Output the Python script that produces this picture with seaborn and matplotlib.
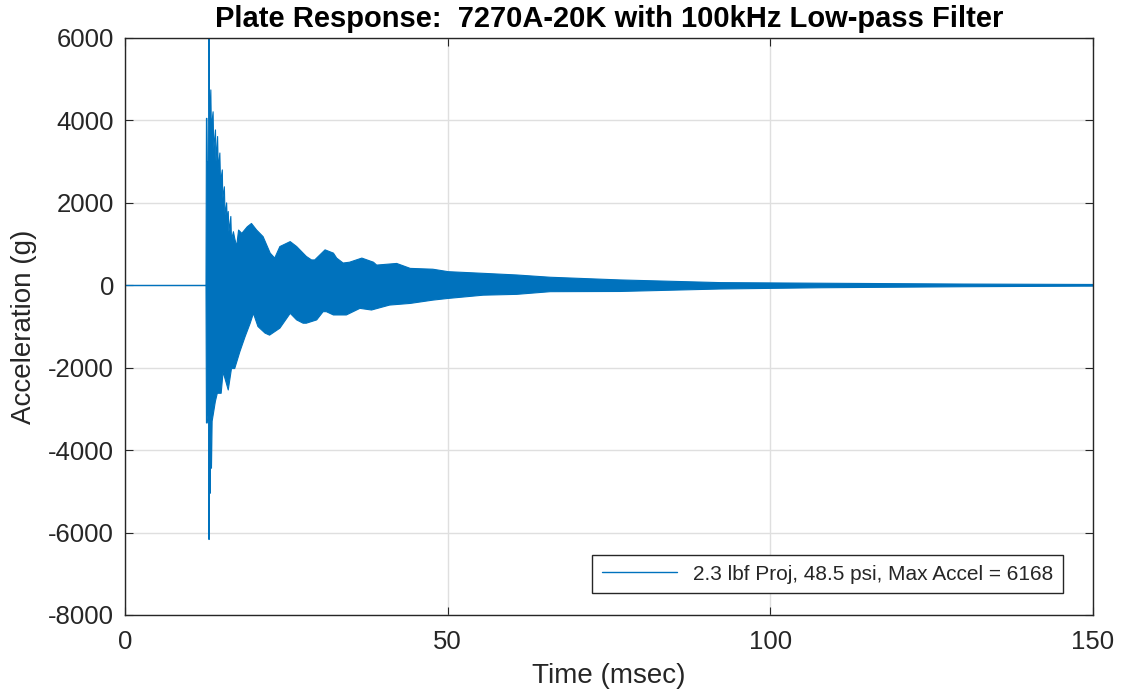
import numpy as np
import pandas as pd
import matplotlib
matplotlib.use("Agg")
import matplotlib.pyplot as plt
import seaborn as sns

# ---- data ----
# quiet baseline before impact (msec, g)
base_t = [0.0, 12.55]
base_a = [0.0, 0.0]

# upper envelope of the accelerometer trace (msec, g)
upper_t = [12.55, 12.62, 12.70, 12.75, 12.95, 13.00, 13.05, 13.10, 13.30, 13.38,
           13.65, 13.75, 14.02, 14.10, 14.35, 14.45, 14.70, 14.80, 15.08, 15.15,
           15.40, 15.50, 15.75, 15.85, 16.00, 16.10, 16.40, 16.50, 16.80, 17.00,
           17.30, 17.60, 18.10, 18.95, 19.60, 20.40, 21.40, 22.50, 23.20, 24.00,
           25.60, 26.60, 27.10, 28.10, 28.90, 29.40, 31.00, 32.30, 32.80, 33.80,
           34.80, 36.70, 38.50, 39.00, 42.10, 44.20, 47.70, 50.10, 55.50, 60.70,
           65.90, 76.70, 92.20, 107.70, 130.00, 150.00]
upper_a = [0, 4050, 4050, 3000, 3000, 6168, 6168, 3900, 4740, 3800,
           4210, 3300, 3770, 3000, 3610, 2800, 3210, 2500, 2800, 2100,
           2390, 1700, 2000, 1500, 1790, 1300, 1670, 1100, 1300, 1140,
           940, 1340, 1260, 1420, 1500, 1340, 1180, 780, 660, 940,
           1060, 940, 860, 700, 615, 615, 860, 780, 660, 540,
           560, 660, 560, 490, 530, 410, 390, 330, 290, 250,
           195, 130, 65, 50, 30, 20]

# lower envelope of the accelerometer trace (msec, g)
lower_t = [12.55, 12.62, 12.75, 12.95, 13.00, 13.05, 13.10, 13.17, 13.22, 13.40,
           13.50, 13.70, 14.00, 14.30, 14.90, 15.20, 16.00, 16.50, 17.00, 17.80,
           18.60, 19.40, 19.90, 20.60, 21.70, 22.40, 24.00, 25.60, 26.60, 27.60,
           28.10, 29.70, 30.70, 31.20, 32.30, 34.30, 36.40, 38.20, 41.00, 44.20,
           47.70, 50.00, 55.50, 60.70, 65.90, 76.70, 92.20, 107.70, 130.00, 150.00]
lower_a = [0, -3340, -3340, -3000, -6168, -6168, -3500, -5050, -3600, -4440,
           -3300, -3110, -2820, -2620, -2620, -2100, -2540, -2020, -2020, -1610,
           -1250, -920, -680, -1000, -1160, -1210, -1040, -680, -840, -920,
           -920, -840, -640, -640, -720, -720, -560, -600, -480, -440,
           -360, -320, -240, -220, -155, -150, -90, -60, -35, -20]

x_ticks = [0, 50, 100, 150]
y_ticks = [-8000, -6000, -4000, -2000, 0, 2000, 4000, 6000]

title = "Plate Response:  7270A-20K with 100kHz Low-pass Filter"
x_label = "Time (msec)"
y_label = "Acceleration (g)"
legend_label = "2.3 lbf Proj, 48.5 psi, Max Accel = 6168"
line_color = "#0072BD"

# ---- styling ----
sns.set_theme(style="white")
plt.rcParams["font.family"] = ["Liberation Sans", "DejaVu Sans"]

fig = plt.figure(figsize=(11.22, 7.0), dpi=100)
ax = fig.add_axes([125 / 1122, 1 - 615 / 700, (1093 - 125) / 1122, (615 - 38) / 700])

base_df = pd.DataFrame({"t": base_t, "a": base_a})
up_df = pd.DataFrame({"t": upper_t, "a": upper_a})
lo_df = pd.DataFrame({"t": lower_t, "a": lower_a})

sns.lineplot(data=base_df, x="t", y="a", ax=ax, color=line_color, lw=1.0,
             label=legend_label, sort=False, estimator=None)
ax.fill(list(upper_t) + list(lower_t[::-1]), list(upper_a) + list(lower_a[::-1]),
        color=line_color, lw=0)
sns.lineplot(data=up_df, x="t", y="a", ax=ax, color=line_color, lw=0.8,
             sort=False, estimator=None)
sns.lineplot(data=lo_df, x="t", y="a", ax=ax, color=line_color, lw=0.8,
             sort=False, estimator=None)

ax.set_xlim(0, 150)
ax.set_ylim(-8000, 6000)
ax.set_xticks(x_ticks)
ax.set_yticks(y_ticks)
ax.set_xticklabels([str(v) for v in x_ticks])
ax.set_yticklabels([str(v) for v in y_ticks])

ax.grid(True, color="#DFDFDF", lw=1.0)
ax.set_axisbelow(True)
for s in ax.spines.values():
    s.set_color("#262626")
    s.set_linewidth(1.0)
    s.set_visible(True)

ax.tick_params(axis="both", which="both", direction="in", length=6, width=0.8,
               color="#262626", labelsize=18.5, labelcolor="#262626",
               top=True, right=True, bottom=True, left=True)
ax.tick_params(axis="x", pad=11)
ax.tick_params(axis="y", pad=8)

ax.set_xlabel(x_label, fontsize=20, color="#262626", labelpad=6)
ax.set_ylabel(y_label, fontsize=20, color="#262626", labelpad=8)
ax.set_title(title, fontsize=21, fontweight="bold", color="black", pad=8)

leg = ax.legend(loc="lower right", fontsize=15, frameon=True, fancybox=False,
                edgecolor="#262626", framealpha=1.0, handlelength=3.6,
                borderpad=0.45, borderaxespad=0,
                bbox_to_anchor=((1063 - 125) / 968, (615 - 593) / 577))
leg.get_frame().set_linewidth(1.0)

fig.savefig("out.png", dpi=100)
